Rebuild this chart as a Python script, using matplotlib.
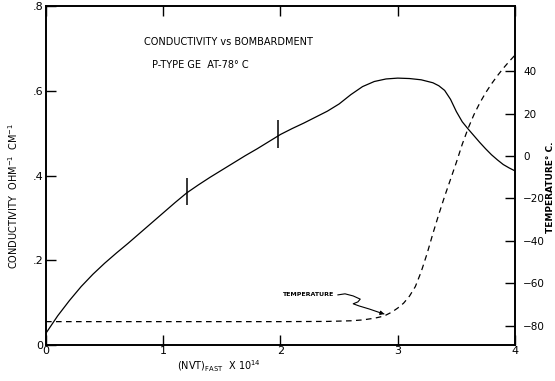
import matplotlib
matplotlib.use("Agg")
import matplotlib.pyplot as plt

# conductivity (ohm^-1 cm^-1) vs fast flux (x 10^14)
nvt = [0.0, 0.1, 0.2, 0.3, 0.4, 0.5, 0.6, 0.7, 0.8, 0.9, 1.0, 1.1, 1.2, 1.3,
       1.4, 1.5, 1.6, 1.7, 1.8, 1.9, 2.0, 2.1, 2.2, 2.3, 2.4, 2.5, 2.6, 2.7,
       2.8, 2.9, 3.0, 3.1, 3.2, 3.3, 3.35, 3.4, 3.45, 3.5, 3.55, 3.6, 3.65,
       3.7, 3.75, 3.8, 3.85, 3.9, 3.95, 4.0]
cond = [0.028, 0.069, 0.105, 0.138, 0.167, 0.193, 0.217, 0.240, 0.264, 0.288,
        0.312, 0.336, 0.359, 0.378, 0.396, 0.413, 0.430, 0.447, 0.463, 0.480,
        0.497, 0.511, 0.524, 0.538, 0.552, 0.569, 0.591, 0.610, 0.622, 0.628,
        0.630, 0.629, 0.626, 0.619, 0.612, 0.601, 0.580, 0.551, 0.527, 0.510,
        0.494, 0.478, 0.463, 0.449, 0.437, 0.426, 0.418, 0.411]

# temperature (deg C), right axis
nvt_t = [0.0, 2.0, 2.4, 2.6, 2.7, 2.8, 2.85, 2.9, 2.95, 3.0, 3.05, 3.1, 3.15,
         3.2, 3.25, 3.3, 3.35, 3.4, 3.45, 3.5, 3.55, 3.6, 3.65, 3.7, 3.75,
         3.8, 3.85, 3.9, 3.95, 4.0]
temp = [-78, -78, -77.9, -77.6, -77.2, -76.4, -75.8, -74.9, -73.5, -71.6,
        -69.3, -66.0, -61.5, -54.5, -46.0, -36.5, -27.5, -19.0, -11.0, -3.0,
        5.5, 13.0, 19.5, 25.0, 29.8, 34.0, 37.8, 41.3, 44.5, 47.5]

# error bars on the conductivity curve
bar_x = [1.2, 1.98]
bar_lo = [0.33, 0.465]
bar_hi = [0.395, 0.531]

x_ticks = [0, 1, 2, 3, 4]
y_ticks = [0, 0.2, 0.4, 0.6, 0.8]
y_labels = ["0", ".2", ".4", ".6", ".8"]
t_ticks = [-80, -60, -40, -20, 0, 20, 40]

plt.rcParams['font.family'] = ['DejaVu Sans']

fig = plt.figure(figsize=(5.55, 3.81), dpi=100)
ax = fig.add_axes([0.0829, 0.0945, 0.845, 0.8895])
ax2 = ax.twinx()

ax.plot(nvt, cond, color='black', lw=0.9)
ax.vlines(bar_x, bar_lo, bar_hi, color='black', lw=1.1)
ax2.plot(nvt_t, temp, color='black', lw=0.9, dashes=(4.5, 3.5))

ax.set_xlim(0, 4)
ax.set_ylim(0, 0.8)
ax2.set_ylim(-89, 70.6)

ax.set_xticks(x_ticks)
ax.set_xticklabels([str(v) for v in x_ticks])
ax.set_yticks(y_ticks)
ax.set_yticklabels(y_labels)
ax2.set_yticks(t_ticks)

ax.tick_params(axis='both', direction='in', length=7, width=1, labelsize=8, pad=2)
ax.tick_params(axis='x', top=True, pad=1)
ax2.tick_params(axis='y', direction='in', length=7, width=1, labelsize=7.5, pad=6)

for a in (ax, ax2):
    for s in a.spines.values():
        s.set_linewidth(1.2)

ax.set_ylabel("CONDUCTIVITY  OHM$^{-1}$  CM$^{-1}$", fontsize=7)
ax.yaxis.set_label_coords(-0.055, 0.44)
ax2.set_ylabel("TEMPERATURE° C.", fontsize=6.5, fontweight='bold')
ax2.yaxis.set_label_coords(1.067, 0.466)
ax.set_xlabel("(NVT)$_{\\mathrm{FAST}}$  X 10$^{14}$", fontsize=7)
ax.xaxis.set_label_coords(0.369, -0.04)

ax.text(0.209, 0.895, "CONDUCTIVITY vs BOMBARDMENT", transform=ax.transAxes,
        fontsize=7, va='center')
ax.text(0.226, 0.825, "P-TYPE GE  AT-78° C", transform=ax.transAxes,
        fontsize=7, va='center')

# label with squiggly leader to the temperature curve
ax2.text(2.01, -65.4, "TEMPERATURE", fontsize=4.5, fontweight='bold', va='center')
sq_x = [2.49, 2.55, 2.62, 2.68, 2.66, 2.62, 2.67, 2.76, 2.86]
sq_y = [-65.4, -64.9, -65.9, -67.4, -68.7, -69.6, -70.6, -72.1, -74.0]
ax2.plot(sq_x, sq_y, color='black', lw=0.8)
ax2.annotate("", xy=(2.91, -74.8), xytext=(2.86, -74.0),
             arrowprops=dict(arrowstyle='-|>', color='black', lw=0.8,
                             mutation_scale=6))

fig.savefig("out.png", dpi=100)
